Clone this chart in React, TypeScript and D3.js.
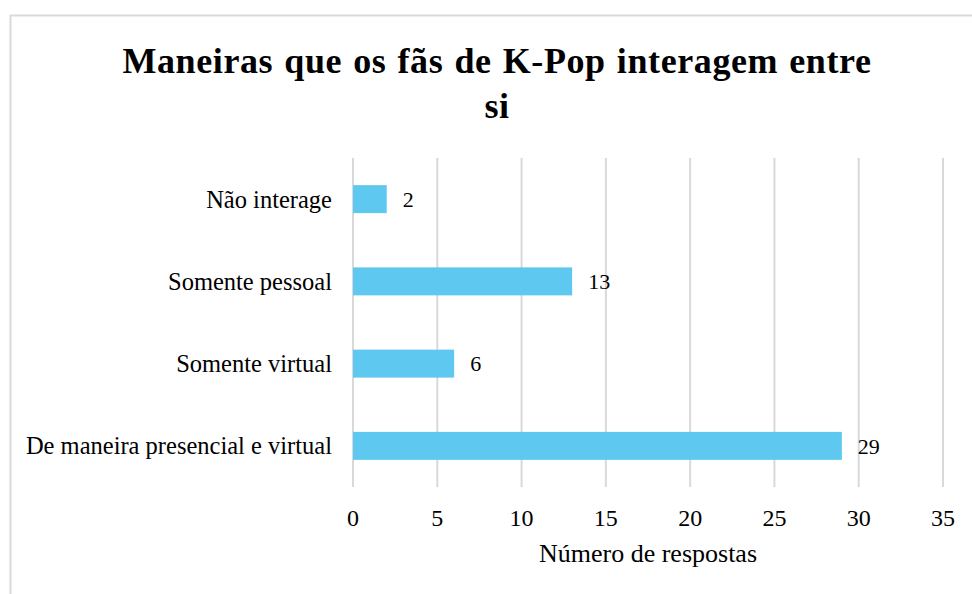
import React, { useEffect, useRef } from 'react'
import * as d3 from 'd3'

const categories = ['Não interage', 'Somente pessoal', 'Somente virtual', 'De maneira presencial e virtual']
const values = [2, 13, 6, 29]
const xTicks = [0, 5, 10, 15, 20, 25, 30, 35]
const titleLines = ['Maneiras que os fãs de K-Pop interagem entre', 'si']
const xTitle = 'Número de respostas'

const W = 972
const H = 594

export default function App() {
  const ref = useRef<SVGSVGElement | null>(null)

  useEffect(() => {
    const svg = d3.select(ref.current)
    svg.selectAll('*').remove()

    const font = '"Liberation Serif", "Times New Roman", serif'
    const margin = { left: 353, right: 29, top: 158, bottom: 107 }
    const width = W - margin.left - margin.right
    const height = H - margin.top - margin.bottom

    // frame
    svg.append('rect')
      .attr('x', 10.5)
      .attr('y', 15.5)
      .attr('width', W + 20)
      .attr('height', H + 20)
      .attr('fill', '#fff')
      .attr('stroke', '#d9d9d9')
      .attr('stroke-width', 2)

    // title
    svg.append('text')
      .attr('text-anchor', 'middle')
      .attr('font-family', font)
      .attr('font-weight', 'bold')
      .attr('font-size', 36)
      .attr('letter-spacing', 0.6)
      .attr('word-spacing', 1.5)
      .attr('fill', '#000')
      .selectAll('tspan')
      .data(titleLines)
      .enter()
      .append('tspan')
      .attr('x', 497)
      .attr('y', (d, i) => 73 + i * 45)
      .text(d => d)

    const g = svg.append('g')
      .attr('transform', `translate(${margin.left}, ${margin.top})`)

    const x = d3.scaleLinear().domain([0, 35]).range([0, width])
    const y = d3.scaleBand().domain(categories).range([0, height]).paddingInner(0.66).paddingOuter(0.33)

    // gridlines
    g.selectAll('line.grid')
      .data(xTicks)
      .enter()
      .append('line')
      .attr('class', 'grid')
      .attr('x1', d => x(d))
      .attr('x2', d => x(d))
      .attr('y1', 0)
      .attr('y2', height)
      .attr('stroke', '#d9d9d9')
      .attr('stroke-width', 2)

    // bars
    g.selectAll('rect.bar')
      .data(values)
      .enter()
      .append('rect')
      .attr('class', 'bar')
      .attr('x', x(0))
      .attr('y', (d, i) => y(categories[i]) as number)
      .attr('width', d => x(d) - x(0))
      .attr('height', y.bandwidth())
      .attr('fill', '#5ec8f0')

    // data labels
    g.selectAll('text.val')
      .data(values)
      .enter()
      .append('text')
      .attr('class', 'val')
      .attr('x', d => x(d) + 16)
      .attr('y', (d, i) => (y(categories[i]) as number) + y.bandwidth() / 2)
      .attr('dy', '0.35em')
      .attr('font-family', font)
      .attr('font-size', 22)
      .attr('fill', '#000')
      .text(d => String(d))

    // category labels
    g.selectAll('text.cat')
      .data(categories)
      .enter()
      .append('text')
      .attr('class', 'cat')
      .attr('x', -21)
      .attr('y', d => (y(d) as number) + y.bandwidth() / 2)
      .attr('dy', '0.35em')
      .attr('text-anchor', 'end')
      .attr('font-family', font)
      .attr('font-size', 24.5)
      .attr('fill', '#000')
      .text(d => d)

    // x tick labels
    g.selectAll('text.tick')
      .data(xTicks)
      .enter()
      .append('text')
      .attr('class', 'tick')
      .attr('x', d => x(d))
      .attr('y', height + 39)
      .attr('text-anchor', 'middle')
      .attr('font-family', font)
      .attr('font-size', 24)
      .attr('fill', '#000')
      .text(d => String(d))

    // x title
    g.append('text')
      .attr('x', width / 2)
      .attr('y', height + 75)
      .attr('text-anchor', 'middle')
      .attr('font-family', font)
      .attr('font-size', 26)
      .attr('fill', '#000')
      .text(xTitle)
  }, [])

  return (
    <svg ref={ref} width={W} height={H}
      style={{ position: 'absolute', left: 0, top: 0, background: '#fff' }} />
  )
}
